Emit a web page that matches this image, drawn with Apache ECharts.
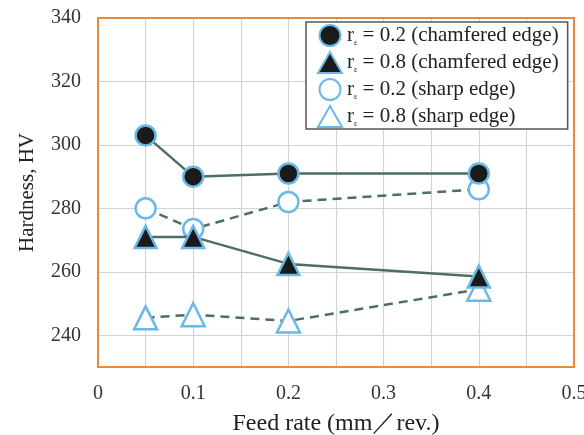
<!DOCTYPE html>
<html>
<head>
<meta charset="utf-8">
<script src="https://cdn.jsdelivr.net/npm/echarts@6/dist/echarts.min.js"></script>
<style>
html, body { margin: 0; padding: 0; background: #fff; }
#main { width: 584px; height: 435px; }
</style>
</head>
<body>
<div id="main"></div>
<script>
// feed rates (mm/rev.)
var feedRates = [0.05, 0.1, 0.2, 0.4];
// hardness values
var r02Chamfered = [303, 290, 291, 291];
var r08Chamfered = [271, 271, 262.5, 258.5];
var r02Sharp = [280, 273.5, 282, 286];
var r08Sharp = [245.5, 246.5, 244.5, 254.5];
var seriesNames = ['r02c', 'r08c', 'r02s', 'r08s'];
var legendTexts = {
	r02c: ' = 0.2 (chamfered edge)',
	r08c: ' = 0.8 (chamfered edge)',
	r02s: ' = 0.2 (sharp edge)',
	r08s: ' = 0.8 (sharp edge)'
};

var serif = '"Liberation Serif", "DejaVu Serif", serif';
var lineColor = '#4d6e63';
var blue = '#6bb8e6';
var orange = '#e58c3e';

function pairs(vals) {
	return feedRates.map(function (x, i) { return [x, vals[i]]; });
}

function makeSeries(name, vals, symbol, filled, dashed, size) {
	return {
		name: name,
		type: 'line',
		data: pairs(vals),
		symbol: symbol,
		symbolSize: size,
		showAllSymbol: true,
		lineStyle: { color: lineColor, width: 2.5, type: dashed ? [9, 6] : 'solid' },
		itemStyle: {
			color: filled ? '#1a1a1a' : '#ffffff',
			borderColor: blue,
			borderWidth: 2.5
		},
		z: filled ? 3 : 2
	};
}

// frame axes only draw the orange border
function frameX(pos) {
	return {
		type: 'value', min: 0, max: 0.5, position: pos,
		axisLine: { show: true, onZero: false, lineStyle: { color: orange, width: 2 } },
		axisTick: { show: false }, axisLabel: { show: false }, splitLine: { show: false }
	};
}
function frameY(pos) {
	return {
		type: 'value', min: 230, max: 340, position: pos,
		axisLine: { show: true, onZero: false, lineStyle: { color: orange, width: 2 } },
		axisTick: { show: false }, axisLabel: { show: false }, splitLine: { show: false }
	};
}

var myChart = echarts.init(document.getElementById('main'));

var option = {
	backgroundColor: '#fff',
	animation: false,
	grid: { left: 98, right: 10, top: 18, bottom: 68, outerBoundsMode: 'none', containLabel: false },
	legend: {
		orient: 'vertical',
		left: 306,
		top: 22,
		padding: [2, 9, 1, 11],
		itemGap: 4,
		itemWidth: 24,
		itemHeight: 21,
		backgroundColor: '#fff',
		borderColor: '#555',
		borderWidth: 1.5,
		data: [
			{ name: 'r02c', icon: 'circle' },
			{ name: 'r08c', icon: 'triangle' },
			{ name: 'r02s', icon: 'circle' },
			{ name: 'r08s', icon: 'triangle' }
		],
		formatter: function (name) {
			return '{r|r}{e|ε}{t|' + legendTexts[name] + '}';
		},
		textStyle: {
			fontFamily: serif,
			fontSize: 21,
			color: '#222',
			rich: {
				r: { fontFamily: serif, fontSize: 21, color: '#222', lineHeight: 22 },
				e: { fontFamily: serif, fontSize: 8, color: '#222', verticalAlign: 'bottom', padding: [10, 0, 0, 0], lineHeight: 22 },
				t: { fontFamily: serif, fontSize: 21, color: '#222', lineHeight: 22 }
			}
		}
	},
	xAxis: [{
		type: 'value',
		min: 0,
		max: 0.5,
		interval: 0.05,
		name: 'Feed rate (mm／rev.)',
		nameLocation: 'middle',
		nameGap: 45,
		nameTextStyle: { fontFamily: serif, fontSize: 24, color: '#222' },
		axisLine: { show: false },
		axisTick: { show: false },
		axisLabel: {
			fontFamily: serif,
			fontSize: 20,
			color: '#333',
			margin: 17,
			formatter: function (v) {
				var k = Math.round(v * 100);
				if (k % 10 !== 0) return '';
				return k === 0 ? '0' : (k / 100).toString();
			}
		},
		splitLine: { show: true, lineStyle: { color: '#d3d3d3', width: 1.2 } }
	}, frameX('top'), frameX('bottom')],
	yAxis: [{
		type: 'value',
		min: 230,
		max: 340,
		interval: 10,
		name: 'Hardness, HV',
		nameLocation: 'middle',
		nameGap: 60,
		nameTextStyle: { fontFamily: serif, fontSize: 21, color: '#222' },
		axisLine: { show: false },
		axisTick: { show: false },
		axisLabel: {
			fontFamily: serif,
			fontSize: 20,
			color: '#333',
			margin: 17,
			formatter: function (v) {
				return (Math.round(v) % 20 === 0) ? String(Math.round(v)) : '';
			}
		},
		splitLine: { show: true, lineStyle: { color: ['rgba(0,0,0,0)', '#d3d3d3'], width: 1.2 } }
	}, frameY('left'), frameY('right')],
	series: [
		makeSeries(seriesNames[0], r02Chamfered, 'circle', true, false, 20),
		makeSeries(seriesNames[1], r08Chamfered, 'triangle', true, false, 22),
		makeSeries(seriesNames[2], r02Sharp, 'circle', false, true, 20),
		makeSeries(seriesNames[3], r08Sharp, 'triangle', false, true, 23)
	]
};

myChart.setOption(option);
</script>
</body>
</html>
